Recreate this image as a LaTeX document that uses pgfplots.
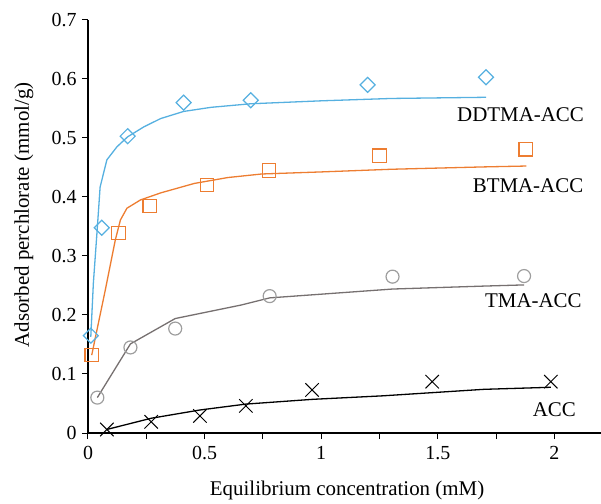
\documentclass[border=0pt]{standalone}
\usepackage{pgfplots}
\pgfplotsset{compat=1.18}
\usepackage{fontspec}
\setmainfont{Liberation Serif}
\definecolor{cblue}{RGB}{86,176,224}
\definecolor{corange}{RGB}{237,125,49}
\definecolor{cgray}{RGB}{158,158,158}
\definecolor{cline}{RGB}{118,112,112}
\begin{document}
\begin{tikzpicture}
\useasboundingbox (-88bp,-71bp) rectangle (513bp,433bp);
\begin{axis}[
  at={(0,0)}, anchor=south west,
  scale only axis, width=513bp, height=413bp,
  xmin=0, xmax=2.2, ymin=0, ymax=0.7,
  axis x line*=bottom, axis y line*=left,
  axis line style={line width=1.2bp, black},
  xtick={0,0.25,0.5,0.75,1,1.25,1.5,1.75,2},
  xticklabels={0,,0.5,,1,,1.5,,2},
  ytick={0,0.1,0.2,0.3,0.4,0.5,0.6,0.7},
  yticklabels={0,0.1,0.2,0.3,0.4,0.5,0.6,0.7},
  tick align=outside, major tick length=6bp,
  tick style={black, line width=1bp},
  ticklabel style={font=\fontsize{20}{24}\selectfont},
  xticklabel style={yshift=-4bp},
  yticklabel style={xshift=-2bp},
  label style={font=\fontsize{21}{25}\selectfont},
  xlabel={Equilibrium concentration (mM)},
  ylabel={Adsorbed perchlorate (mmol/g)},
  xlabel style={at={(axis description cs:0.505,-0.138)}, anchor=center},
  ylabel style={at={(axis description cs:-0.125,0.528)}, anchor=center},
  clip=false,
]
% DDTMA-ACC
\addplot[cblue, line width=1.3bp, no marks] coordinates {
(0.012,0.163) (0.023,0.254) (0.040,0.348) (0.052,0.417) (0.081,0.463)
(0.124,0.485) (0.170,0.502) (0.240,0.519) (0.312,0.533) (0.41,0.545)
(0.528,0.552) (0.697,0.558) (1.0,0.563) (1.3,0.567) (1.707,0.569)};
\addplot[cblue, line width=1.2bp, only marks, mark=square, mark size=5.3bp, mark options={rotate=45}] coordinates {
(0.012,0.165) (0.059,0.348) (0.17,0.503) (0.41,0.56) (0.698,0.564) (1.199,0.59) (1.707,0.603)};
% BTMA-ACC
\addplot[corange, line width=1.3bp, no marks] coordinates {
(0.016,0.132) (0.074,0.242) (0.117,0.327) (0.139,0.361) (0.167,0.381)
(0.225,0.395) (0.312,0.407) (0.456,0.423) (0.60,0.433) (0.745,0.439)
(1.0,0.4425) (1.3,0.447) (1.697,0.451) (1.88,0.4525)};
\addplot[corange, line width=1.2bp, only marks, mark=square, mark size=6.7bp] coordinates {
(0.016,0.132) (0.131,0.339) (0.265,0.385) (0.51,0.42) (0.776,0.445) (1.25,0.47) (1.877,0.481)};
% TMA-ACC
\addplot[cline, line width=1.3bp, no marks] coordinates {
(0.04,0.06) (0.182,0.151) (0.374,0.194) (0.658,0.217) (0.779,0.229)
(1.306,0.244) (1.697,0.249) (1.87,0.251)};
\addplot[cgray, line width=1.2bp, only marks, mark=o, mark size=6.5bp] coordinates {
(0.04,0.06) (0.182,0.145) (0.374,0.177) (0.779,0.232) (1.306,0.265) (1.87,0.266)};
% ACC
\addplot[black, line width=1.3bp, no marks] coordinates {
(0.081,0.006) (0.271,0.025) (0.48,0.039) (0.677,0.049) (0.961,0.057)
(1.264,0.063) (1.697,0.074) (1.985,0.0775)};
\addplot[black, line width=1bp, only marks, mark=x, mark size=9.5bp] coordinates {
(0.081,0.006) (0.271,0.019) (0.48,0.029) (0.677,0.046) (0.961,0.073) (1.476,0.087) (1.985,0.087)};
% labels
\node[font=\fontsize{21}{25}\selectfont] at (axis cs:1.855,0.539) {DDTMA-ACC};
\node[font=\fontsize{21}{25}\selectfont] at (axis cs:1.887,0.42) {BTMA-ACC};
\node[font=\fontsize{21}{25}\selectfont] at (axis cs:1.91,0.225) {TMA-ACC};
\node[font=\fontsize{21}{25}\selectfont] at (axis cs:2.0,0.04) {ACC};
\end{axis}
\end{tikzpicture}
\end{document}
